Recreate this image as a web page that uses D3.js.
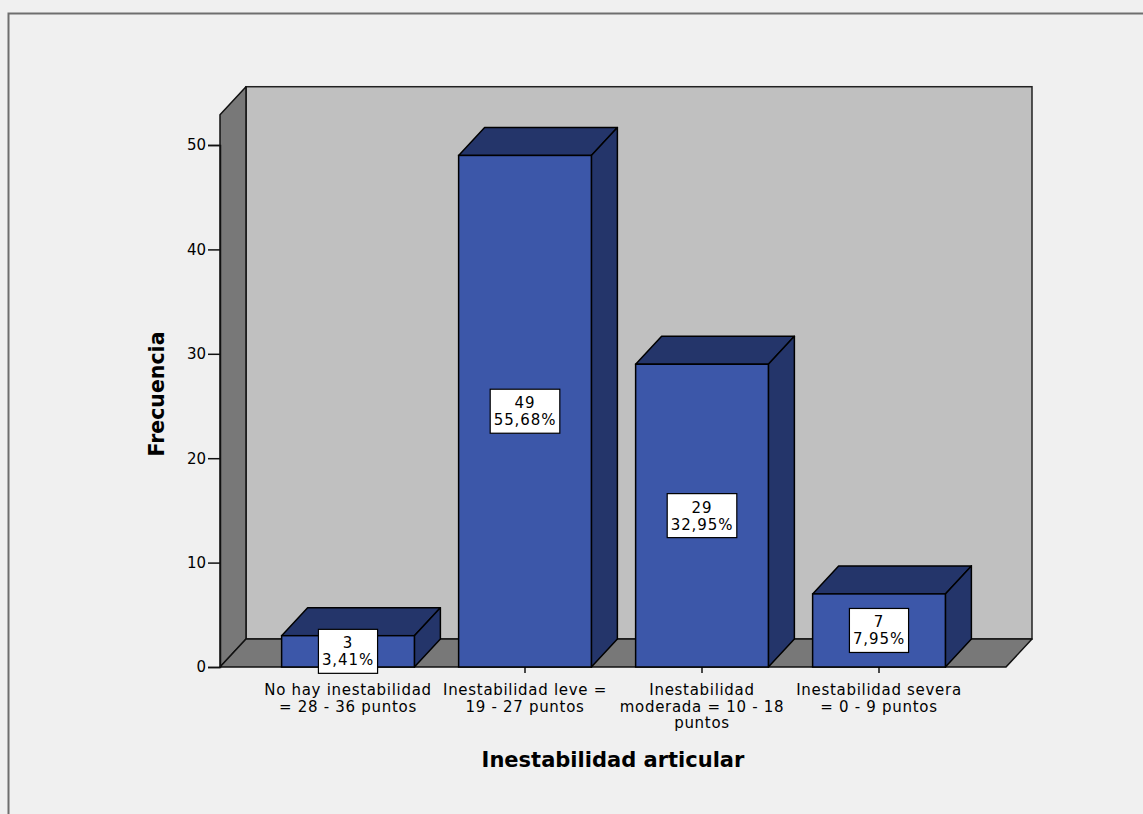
<!DOCTYPE html>
<html>
<head>
<meta charset="utf-8">
<script src="https://cdn.jsdelivr.net/npm/d3@7"></script>
<style>
  html, body { margin: 0; padding: 0; background: #f0f0f0; }
  svg { display: block; }
  text { font-family: "DejaVu Sans", Verdana, sans-serif; fill: #000; }
</style>
</head>
<body>
<svg id="chart" width="1143" height="814"></svg>
<script>
// Category labels (each entry is a list of lines)
const categories = [
  ["No hay inestabilidad", "= 28 - 36 puntos"],
  ["Inestabilidad leve =", "19 - 27 puntos"],
  ["Inestabilidad", "moderada = 10 - 18", "puntos"],
  ["Inestabilidad severa", "= 0 - 9 puntos"]
];
const counts = [3, 49, 29, 7];
const percents = ["3,41%", "55,68%", "32,95%", "7,95%"];
const yTicks = [0, 10, 20, 30, 40, 50];
const yTitle = "Frecuencia";
const xTitle = "Inestabilidad articular";

const svg = d3.select("#chart");

// outer frame
svg.append("rect")
  .attr("x", 8.5).attr("y", 13.5)
  .attr("width", 1300).attr("height", 1000)
  .attr("fill", "#f0f0f0").attr("stroke", "#6e6e6e").attr("stroke-width", 2);

// plot geometry
const x0 = 220, x1 = 1006;       // front plane horizontal extent
const depthX = 26, depthY = -28; // 3-D depth offset
const wallMax = 52.9;

const y = d3.scaleLinear().domain([0, 50]).range([667, 145]);
const x = d3.scaleBand()
  .domain(d3.range(categories.length))
  .range([259.5, 967.5])
  .paddingInner(0.25)
  .paddingOuter(0.125);

const g = svg.append("g");

// back wall
g.append("rect")
  .attr("x", x0 + depthX).attr("y", y(wallMax) + depthY)
  .attr("width", x1 - x0).attr("height", y(0) - y(wallMax))
  .attr("fill", "#c0c0c0").attr("stroke", "#222").attr("stroke-width", 1.5);

// left wall
g.append("polygon")
  .attr("points", [
    [x0, y(0)], [x0, y(wallMax)], [x0 + depthX, y(wallMax) + depthY], [x0 + depthX, y(0) + depthY]
  ].map(p => p.join(",")).join(" "))
  .attr("fill", "#787878").attr("stroke", "#111").attr("stroke-width", 1.5)
  .attr("stroke-linejoin", "round");

// floor
g.append("polygon")
  .attr("points", [
    [x0, y(0)], [x1, y(0)], [x1 + depthX, y(0) + depthY], [x0 + depthX, y(0) + depthY]
  ].map(p => p.join(",")).join(" "))
  .attr("fill", "#787878").attr("stroke", "#111").attr("stroke-width", 1.5)
  .attr("stroke-linejoin", "round");

// y axis
const yAxis = g.append("g")
  .attr("transform", `translate(${x0},0)`)
  .call(d3.axisLeft(y).tickValues(yTicks).tickSize(12).tickPadding(2).tickFormat(d3.format("d")));
yAxis.select(".domain").attr("stroke", "#111").attr("stroke-width", 1.5);
yAxis.selectAll(".tick line").attr("stroke", "#111").attr("stroke-width", 1.5);
yAxis.selectAll(".tick text")
  .style("font-family", "DejaVu Sans, sans-serif").style("font-size", "15px").attr("fill", "#000");

// x axis ticks
const xAxis = g.append("g")
  .attr("transform", `translate(0,${y(0)})`)
  .call(d3.axisBottom(x).tickSize(6).tickFormat(""));
xAxis.select(".domain").remove();
xAxis.selectAll(".tick line").attr("stroke", "#111").attr("stroke-width", 1.5);

// bars
const bars = g.selectAll(".bar").data(counts).enter().append("g").attr("class", "bar");
bars.each(function (d, i) {
  const sel = d3.select(this);
  const bx = x(i), bw = x.bandwidth(), top = y(d), bot = y(0);
  const pts = a => a.map(p => p.join(",")).join(" ");
  // top face
  sel.append("polygon")
    .attr("points", pts([[bx, top], [bx + bw, top], [bx + bw + depthX, top + depthY], [bx + depthX, top + depthY]]))
    .attr("fill", "#24356a").attr("stroke", "#000").attr("stroke-width", 1.5).attr("stroke-linejoin", "round");
  // side face
  sel.append("polygon")
    .attr("points", pts([[bx + bw, top], [bx + bw + depthX, top + depthY], [bx + bw + depthX, bot + depthY], [bx + bw, bot]]))
    .attr("fill", "#24356a").attr("stroke", "#000").attr("stroke-width", 1.5).attr("stroke-linejoin", "round");
  // front face
  sel.append("rect")
    .attr("x", bx).attr("y", top).attr("width", bw).attr("height", bot - top)
    .attr("fill", "#3c57a9").attr("stroke", "#000").attr("stroke-width", 1.5);
});

// value labels: count and percentage in a white box at the middle of the front face
bars.each(function (d, i) {
  const sel = d3.select(this);
  const cx = x(i) + x.bandwidth() / 2;
  const cy = (y(d) + y(0)) / 2;
  const lab = sel.append("g");
  const t = lab.append("text")
    .attr("text-anchor", "middle")
    .style("font-size", "15px")
    .style("letter-spacing", "0.9px");
  t.append("tspan").attr("x", cx).attr("y", cy - 3).text(d);
  t.append("tspan").attr("x", cx).attr("y", cy + 14).text(percents[i]);
  const bb = t.node().getBBox();
  const w = bb.width + 7, h = 44;
  lab.insert("rect", "text")
    .attr("x", cx - w / 2).attr("y", cy - h / 2)
    .attr("width", w).attr("height", h)
    .attr("fill", "#fff").attr("stroke", "#000").attr("stroke-width", 1.2);
});

// category labels
categories.forEach((lines, i) => {
  const cx = x(i) + x.bandwidth() / 2;
  const t = g.append("text").attr("text-anchor", "middle")
    .style("font-size", "15px").style("letter-spacing", "0.7px");
  lines.forEach((ln, k) => {
    t.append("tspan").attr("x", cx).attr("y", 695 + k * 16.5).text(ln);
  });
});

// axis titles
svg.append("text")
  .attr("transform", `translate(164,394) rotate(-90)`)
  .attr("text-anchor", "middle")
  .style("font-size", "20.5px").style("font-weight", "bold")
  .text(yTitle);

svg.append("text")
  .attr("x", 613).attr("y", 767)
  .attr("text-anchor", "middle")
  .style("font-size", "21px").style("font-weight", "bold")
  .text(xTitle);
</script>
</body>
</html>
